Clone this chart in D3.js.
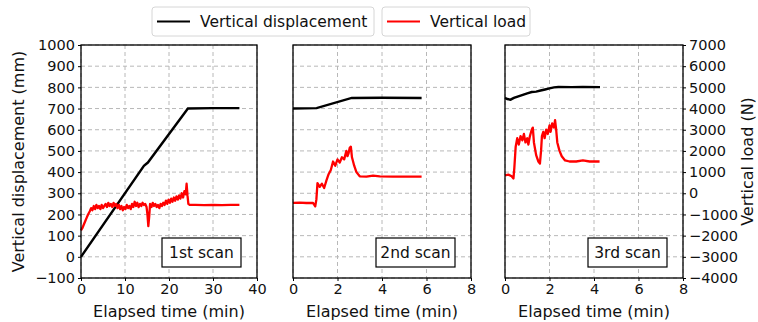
<!DOCTYPE html>
<html>
<head>
<meta charset="utf-8">
<script src="https://cdn.jsdelivr.net/npm/d3@7"></script>
<style>
  body { margin: 0; background: #fff; }
  svg { font-family: "DejaVu Sans", sans-serif; }
</style>
</head>
<body>
<div class="chart-wrapper"></div>
<script>
// scan names and x ranges
const scanLabels = ['1st scan', '2nd scan', '3rd scan'];
const xMaxes = [40, 8, 8];
const xTicks = [[0, 10, 20, 30, 40], [0, 2, 4, 6, 8], [0, 2, 4, 6, 8]];
const dispTicks = [-100, 0, 100, 200, 300, 400, 500, 600, 700, 800, 900, 1000];
const loadTicks = [-4000, -3000, -2000, -1000, 0, 1000, 2000, 3000, 4000, 5000, 6000, 7000];

// vertical displacement (mm) vs elapsed time (min)
const disp1 = [[0, 0], [14.3, 430], [15.2, 445], [24.3, 700], [30, 702], [36, 702]];
const disp2 = [[0, 700], [1.06, 702], [2.64, 750], [4, 751], [5.78, 750]];
const disp3 = [[0, 750], [0.1, 745], [0.25, 742], [0.4, 750], [0.6, 758], [0.8, 765], [1.0, 772],
  [1.2, 778], [1.4, 780], [1.6, 785], [1.8, 790], [2.0, 795], [2.2, 800], [2.4, 802], [3.0, 801],
  [3.5, 802], [4.27, 801]];

// vertical load (N) vs elapsed time (min)
const load1 = [[0, -1750], [0.3, -1650], [0.6, -1500], [1.0, -1300], [1.3, -1150], [1.6, -1000],
  [2.0, -850], [2.3, -700], [2.6, -800], [2.9, -600], [3.2, -750], [3.5, -550], [3.8, -700],
  [4.1, -600], [4.4, -750], [4.7, -550], [5.0, -700], [5.3, -600], [5.6, -500], [5.9, -650],
  [6.2, -450], [6.5, -600], [6.8, -500], [7.1, -650], [7.4, -450], [7.7, -600], [8.0, -500],
  [8.3, -700], [8.6, -550], [8.9, -750], [9.2, -600], [9.5, -800], [9.8, -650], [10.1, -750],
  [10.4, -550], [10.7, -700], [11.0, -600], [11.3, -750], [11.6, -500], [11.9, -650], [12.2, -400],
  [12.5, -600], [12.8, -450], [13.1, -650], [13.4, -500], [13.7, -600], [14.0, -450], [14.3, -550],
  [14.6, -500], [14.9, -650], [15.1, -1000], [15.3, -1550], [15.5, -1100], [15.7, -500],
  [16.0, -650], [16.3, -450], [16.6, -600], [16.9, -500], [17.2, -650], [17.5, -550], [17.8, -700],
  [18.1, -500], [18.4, -600], [18.7, -450], [19.0, -550], [19.3, -350], [19.6, -500], [19.9, -300],
  [20.2, -450], [20.5, -250], [20.8, -400], [21.1, -200], [21.4, -350], [21.7, -150], [22.0, -300],
  [22.3, -100], [22.6, -250], [22.9, 0], [23.2, -200], [23.5, 100], [23.8, -50], [24.0, 450],
  [24.2, -100], [24.4, -500], [24.7, -550], [26, -550], [28, -560], [30, -550], [32, -560],
  [34, -550], [36, -550]];
const load2 = [[0, -450], [0.3, -440], [0.6, -460], [0.9, -450], [1.0, -620], [1.05, -300],
  [1.1, 480], [1.2, 300], [1.3, 450], [1.4, 250], [1.5, 600], [1.6, 900], [1.7, 1100], [1.8, 1500],
  [1.9, 1300], [2.0, 1600], [2.1, 1450], [2.2, 1700], [2.3, 1600], [2.4, 2000], [2.45, 1750],
  [2.5, 1900], [2.55, 2150], [2.6, 2200], [2.65, 1700], [2.75, 1300], [2.85, 1000], [3.0, 800],
  [3.3, 790], [3.6, 830], [3.9, 800], [4.5, 790], [5.0, 790], [5.5, 790], [5.78, 790]];
const load3 = [[0, 850], [0.15, 880], [0.3, 800], [0.38, 700], [0.42, 1200], [0.48, 2200],
  [0.55, 2600], [0.62, 2300], [0.7, 2700], [0.78, 2500], [0.85, 2800], [0.92, 2400], [1.0, 2600],
  [1.05, 2300], [1.12, 2700], [1.2, 3000], [1.25, 3100], [1.3, 2400], [1.4, 1800], [1.5, 1500],
  [1.57, 1400], [1.62, 2000], [1.66, 2700], [1.72, 2900], [1.78, 2600], [1.85, 3000], [1.92, 2800],
  [2.0, 3200], [2.05, 2900], [2.12, 3300], [2.2, 3100], [2.25, 3450], [2.3, 3000], [2.35, 2400],
  [2.45, 2000], [2.55, 1750], [2.7, 1550], [2.9, 1500], [3.2, 1500], [3.5, 1550], [3.8, 1500],
  [4.25, 1500]];

const dispSeries = [disp1, disp2, disp3];
const loadSeries = [load1, load2, load3];

const width = 758, height = 322;
const plotTop = 45, plotBottom = 278;
const panelX = [[81, 257], [293, 471], [505, 683]];
const gridColor = '#b8b8b8';
const labelSize = 16;
const fmt = d => d < 0 ? '\u2212' + Math.abs(d) : String(d);

const svg = d3.select('.chart-wrapper')
  .append('svg')
  .attr('width', width)
  .attr('height', height);

const yDisp = d3.scaleLinear().domain([-100, 1000]).range([plotBottom, plotTop]);
const yLoad = d3.scaleLinear().domain([-4000, 7000]).range([plotBottom, plotTop]);

scanLabels.forEach((label, i) => {
  const [x0, x1] = panelX[i];
  const x = d3.scaleLinear().domain([0, xMaxes[i]]).range([x0, x1]);
  const g = svg.append('g');

  // grid
  g.selectAll('.hgrid').data(dispTicks).join('line')
    .attr('x1', x0).attr('x2', x1)
    .attr('y1', d => yDisp(d)).attr('y2', d => yDisp(d))
    .attr('stroke', gridColor).attr('stroke-dasharray', '4,3').attr('stroke-width', 1);
  g.selectAll('.vgrid').data(xTicks[i]).join('line')
    .attr('x1', d => x(d)).attr('x2', d => x(d))
    .attr('y1', plotTop).attr('y2', plotBottom)
    .attr('stroke', gridColor).attr('stroke-dasharray', '4,3').attr('stroke-width', 1);

  // lines
  const line = yScale => d3.line().x(d => x(d[0])).y(d => yScale(d[1]));
  g.append('path').datum(dispSeries[i])
    .attr('fill', 'none').attr('stroke', '#000').attr('stroke-width', 2.4)
    .attr('d', line(yDisp));
  g.append('path').datum(loadSeries[i])
    .attr('fill', 'none').attr('stroke', '#ff0000').attr('stroke-width', 2.3)
    .attr('stroke-linejoin', 'round')
    .attr('d', line(yLoad));

  // frame
  g.append('rect')
    .attr('x', x0).attr('y', plotTop).attr('width', x1 - x0).attr('height', plotBottom - plotTop)
    .attr('fill', 'none').attr('stroke', '#000').attr('stroke-width', 1.3);

  // x axis
  const xa = g.append('g')
    .attr('transform', `translate(0,${plotBottom})`)
    .call(d3.axisBottom(x).tickValues(xTicks[i]).tickSize(3).tickPadding(3).tickFormat(fmt));
  xa.select('.domain').remove();
  xa.selectAll('text').attr('font-size', 14.5).attr('fill', '#111').attr('font-family', 'DejaVu Sans');

  g.append('text')
    .attr('x', (x0 + x1) / 2).attr('y', 317)
    .attr('text-anchor', 'middle').attr('font-size', labelSize).attr('fill', '#111')
    .text('Elapsed time (min)');

  // scan label box
  const boxW = 79, boxH = 29;
  const bx = x1 - 16 - boxW, by = 238;
  g.append('rect')
    .attr('x', bx).attr('y', by).attr('width', boxW).attr('height', boxH)
    .attr('fill', '#fff').attr('stroke', '#000').attr('stroke-width', 1.2);
  g.append('text')
    .attr('x', bx + boxW / 2).attr('y', by + boxH / 2 + 5.5)
    .attr('text-anchor', 'middle').attr('font-size', 15.5).attr('fill', '#111')
    .text(label);

  if (i === 0) {
    const ya = g.append('g')
      .attr('transform', `translate(${x0},0)`)
      .call(d3.axisLeft(yDisp).tickValues(dispTicks).tickSize(3).tickPadding(3).tickFormat(fmt));
    ya.select('.domain').remove();
    ya.selectAll('text').attr('font-size', 14.5).attr('fill', '#111').attr('font-family', 'DejaVu Sans');
  }
  if (i === 2) {
    const ya = g.append('g')
      .attr('transform', `translate(${x1},0)`)
      .call(d3.axisRight(yLoad).tickValues(loadTicks).tickSize(3).tickPadding(3).tickFormat(fmt));
    ya.select('.domain').remove();
    ya.selectAll('text').attr('font-size', 14.5).attr('fill', '#111').attr('font-family', 'DejaVu Sans');
  }
});

// y axis titles
svg.append('text')
  .attr('transform', `translate(24,${(plotTop + plotBottom) / 2}) rotate(-90)`)
  .attr('text-anchor', 'middle').attr('font-size', labelSize).attr('fill', '#111')
  .text('Vertical displacement (mm)');
svg.append('text')
  .attr('transform', `translate(753,${(plotTop + plotBottom) / 2}) rotate(-90)`)
  .attr('text-anchor', 'middle').attr('font-size', labelSize).attr('fill', '#111')
  .text('Vertical load (N)');

// legend boxes
const legendItems = [
  {name: 'Vertical displacement', color: '#000', x: 152, w: 222},
  {name: 'Vertical load', color: '#ff0000', x: 382, w: 148}
];
legendItems.forEach(item => {
  const lg = svg.append('g').attr('transform', `translate(${item.x},7)`);
  lg.append('rect')
    .attr('width', item.w).attr('height', 29).attr('rx', 3)
    .attr('fill', '#fff').attr('stroke', '#d6d6d6').attr('stroke-width', 1);
  lg.append('line')
    .attr('x1', 5).attr('x2', 38).attr('y1', 14.5).attr('y2', 14.5)
    .attr('stroke', item.color).attr('stroke-width', 2);
  lg.append('text')
    .attr('x', 48).attr('y', 20).attr('font-size', 15.5).attr('fill', '#111')
    .text(item.name);
});
</script>
</body>
</html>
